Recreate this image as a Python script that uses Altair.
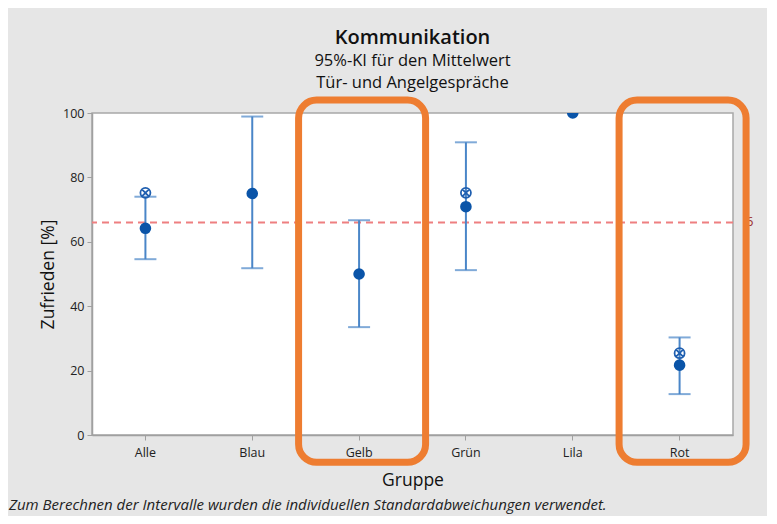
import altair as alt
import pandas as pd

groups = ["Alle", "Blau", "Gelb", "Grün", "Lila", "Rot"]
means = [64.2, 75.0, 50.0, 70.9, 100.0, 21.7]
ci_low = [54.6, 51.8, 33.5, 51.2, None, 12.7]
ci_high = [74.0, 98.9, 66.7, 90.9, None, 30.3]
marker_groups = ["Alle", "Grün", "Rot"]
marker_values = [75.2, 75.2, 25.4]
ref_value = 66.0
highlight_groups = ["Gelb", "Rot"]
highlight_low = [-8.5, -8.5]
highlight_high = [104.0, 104.0]

df = pd.DataFrame({"Gruppe": groups, "mean": means, "lo": ci_low, "hi": ci_high})
df_ci = df.dropna()
df_mark = pd.DataFrame({"Gruppe": marker_groups, "v": marker_values})
df_ref = pd.DataFrame({"r": [ref_value]})
df_hl = pd.DataFrame({"Gruppe": highlight_groups, "lo": highlight_low, "hi": highlight_high})

FONT = "Open Sans"
W, H = 641, 322

xenc = alt.X("Gruppe:N", sort=groups, title="Gruppe",
             scale=alt.Scale(domain=groups, paddingInner=0, paddingOuter=0))
yscale = alt.Scale(domain=[0, 100], nice=False, zero=True)

ref = alt.Chart(df_ref).mark_rule(color="#ee7f80", strokeDash=[7, 5], strokeWidth=2).encode(
    y=alt.Y("r:Q", scale=yscale, title="Zufrieden [%]",
            axis=alt.Axis(values=[0, 20, 40, 60, 80, 100]))
)
ref_label = alt.Chart(df_ref).mark_text(color="#9b2d2d", align="left", baseline="middle",
                                         fontSize=13, font=FONT, dx=13).encode(
    x=alt.value(W), y=alt.Y("r:Q", scale=yscale), text=alt.value("6")
)

rules = alt.Chart(df_ci).mark_rule(color="#4a86c8", strokeWidth=2).encode(
    x=xenc, y=alt.Y("lo:Q", scale=yscale), y2="hi:Q"
)
caps_lo = alt.Chart(df_ci).mark_tick(color="#4a86c8", size=22, thickness=2).encode(
    x=xenc, y=alt.Y("lo:Q", scale=yscale)
)
caps_hi = alt.Chart(df_ci).mark_tick(color="#4a86c8", size=22, thickness=2).encode(
    x=xenc, y=alt.Y("hi:Q", scale=yscale)
)

circle_x = "M-1,0A1,1 0 1,1 1,0A1,1 0 1,1 -1,0M-0.7,-0.7L0.7,0.7M-0.7,0.7L0.7,-0.7"
markers = alt.Chart(df_mark).mark_point(shape=circle_x, filled=False, color="#1f5fb0",
                                         size=100, strokeWidth=1.8, opacity=1).encode(
    x=xenc, y=alt.Y("v:Q", scale=yscale)
)
points = alt.Chart(df).mark_point(shape="circle", filled=True, color="#0a54a8",
                                   size=135, opacity=1, clip=True).encode(
    x=xenc, y=alt.Y("mean:Q", scale=yscale)
)

hl = alt.Chart(df_hl).mark_bar(width=127, xOffset=3, fillOpacity=0, fill="white", stroke="#ee7d31",
                               strokeWidth=7, cornerRadius=18, clip=False).encode(
    x=xenc, y=alt.Y("lo:Q", scale=yscale), y2="hi:Q"
)

footnote = alt.Chart(df_ref).mark_text(
    text="Zum Berechnen der Intervalle wurden die individuellen Standardabweichungen verwendet.",
    align="left", baseline="middle", fontStyle="italic", fontSize=15, font=FONT,
    color="#222222"
).encode(x=alt.value(-83), y=alt.value(H + 70))

chart = alt.layer(ref, rules, caps_lo, caps_hi, markers, points, ref_label, hl, footnote).properties(
    width=W, height=H,
    title=alt.TitleParams(
        text="Kommunikation",
        subtitle=["95%-KI für den Mittelwert", "Tür- und Angelgespräche"],
        font=FONT, fontSize=20, fontWeight=600, color="#111111",
        subtitleFont=FONT, subtitleFontSize=16.5, subtitleColor="#111111",
        subtitlePadding=5, subtitleLineHeight=22,
        anchor="middle", offset=5,
    ),
    background="#e6e6e6",
    padding={"left": 84, "top": 105, "right": 34, "bottom": 81},
    autosize=alt.AutoSizeParams(type="none"),
).configure_view(
    fill="white", stroke="#a8a8a8", strokeWidth=1.5
).configure_axis(
    labelFont=FONT, titleFont=FONT, labelFontSize=12.5, titleFontSize=17.5,
    labelColor="#222222", titleColor="#111111", titleFontWeight="normal",
    domainColor="#a0a0a0", tickColor="#a0a0a0", tickSize=5, grid=False,
    domainWidth=1.5,
).configure_axisX(
    labelAngle=0, labelPadding=6, titlePadding=13, labelFontWeight=500
).configure_axisY(
    labelPadding=3, titlePadding=5
)

chart.save("out.html", embed_options={"renderer": "svg", "actions": False})
